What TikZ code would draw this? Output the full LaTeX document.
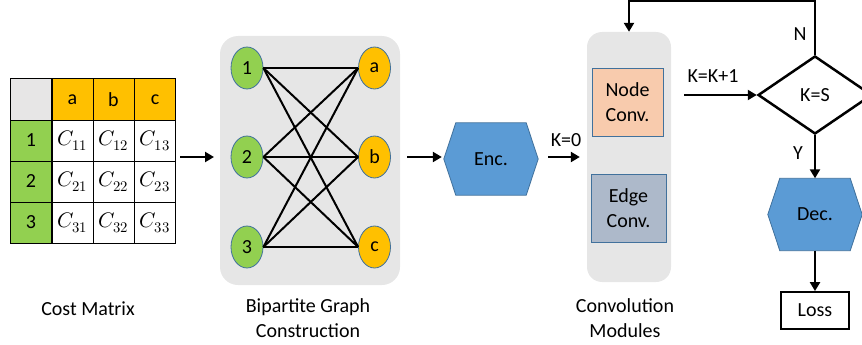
\documentclass[tikz,border=0pt]{standalone}
\usepackage{fontspec}
\usepackage{unicode-math}
\setmainfont{Carlito}
\setmathfont{Latin Modern Math}
\usetikzlibrary{arrows.meta,calc,shapes.geometric}
\pgfdeclarelayer{bg}
\pgfsetlayers{bg,main}
\definecolor{cgreen}{HTML}{92D050}
\definecolor{corange}{HTML}{FFC000}
\definecolor{cgray}{HTML}{E6E6E6}
\definecolor{chead}{HTML}{E7E6E6}
\definecolor{cblue}{HTML}{5B9BD5}
\definecolor{cblueb}{HTML}{41719C}
\definecolor{cpeach}{HTML}{F8CBAD}
\definecolor{cslate}{HTML}{ADB9CA}
\newcommand\hexbg[1]{\begin{pgfonlayer}{bg}\draw[hexfill] (#1.west) -- ([xshift=12pt]#1.north west) -- ([xshift=-12pt]#1.north east) -- (#1.east) -- ([xshift=-12pt]#1.south east) -- ([xshift=12pt]#1.south west) -- cycle;\end{pgfonlayer}}
\tikzset{
  every node/.style={font=\fontsize{20}{25}\selectfont, inner sep=0pt},
  cell/.style={draw=black, line width=1pt, minimum width=41pt, minimum height=41pt},
  mcell/.style={cell, font=\fontsize{21}{25}\selectfont},
  vert/.style={ellipse, draw=cblueb, line width=0.8pt, minimum width=32pt, minimum height=42pt},
  edge/.style={line width=2pt},
  arr/.style={-{Triangle[length=9pt,width=10pt]}, line width=2.8pt},
  hexfill/.style={fill=cblue, draw=cblueb, line width=0.8pt},
  hexbox/.style={minimum width=94pt, minimum height=72pt},
  graybox/.style={fill=cgray, rounded corners=18pt},
  lbl/.style={align=center},
}
\begin{document}
\begin{tikzpicture}[x=1pt,y=-1pt]
\useasboundingbox (0,0) rectangle (862,345);
% cost matrix
\node[cell, fill=chead] (h0) at (31,99.5) {};
\node[cell, fill=corange] (ha) at (72.5,99.5) {a};
\node[cell, fill=corange] (hb) at (113.5,99.5) {b};
\node[cell, fill=corange] (hc) at (155,99.5) {c};
\node[cell, fill=cgreen] (r1) at (31,140.5) {1};
\node[cell, fill=cgreen] (r2) at (31,181.5) {2};
\node[cell, fill=cgreen] (r3) at (31,222.5) {3};
\node[mcell] (c11) at (72.5,140.5) {$C_{11}$};
\node[mcell] (c12) at (113.5,140.5) {$C_{12}$};
\node[mcell] (c13) at (155,140.5) {$C_{13}$};
\node[mcell] (c21) at (72.5,181.5) {$C_{21}$};
\node[mcell] (c22) at (113.5,181.5) {$C_{22}$};
\node[mcell] (c23) at (155,181.5) {$C_{23}$};
\node[mcell] (c31) at (72.5,222.5) {$C_{31}$};
\node[mcell] (c32) at (113.5,222.5) {$C_{32}$};
\node[mcell] (c33) at (155,222.5) {$C_{33}$};
\node[lbl] (costlbl) at (88,309) {Cost Matrix};
% bipartite graph
\node[graybox, minimum width=180pt, minimum height=249pt] (bip) at (310,160.5) {};
\node[vert, fill=cgreen] (l1) at (247,68) {1};
\node[vert, fill=cgreen] (l2) at (247,157) {2};
\node[vert, fill=cgreen] (l3) at (247,247) {3};
\node[vert, fill=corange] (ra) at (374.5,68) {a};
\node[vert, fill=corange] (rb) at (374.5,157) {b};
\node[vert, fill=corange] (rc) at (374.5,247) {c};
\foreach \l in {l1,l2,l3}{\foreach \r in {ra,rb,rc}{\draw[edge] (\l.east) -- (\r.west);}}
\node[lbl] (biplbl) at (308,318) {Bipartite Graph\\Construction};
% encoder
\node[hexbox] (enc) at (491,159) {Enc.};
\hexbg{enc}
% convolution modules
\node[graybox, rounded corners=15pt, minimum width=84pt, minimum height=250pt] (conv) at (629,157) {};
\node[fill=cpeach, draw=cblueb, line width=0.8pt, minimum width=71pt, minimum height=68pt, align=center] (nconv) at (627.5,102) {Node\\Conv.};
\node[fill=cslate, draw=cblueb, line width=0.8pt, minimum width=75pt, minimum height=68pt, align=center] (econv) at (628.5,208) {Edge\\Conv.};
\node[lbl] (convlbl) at (625,318) {Convolution\\Modules};
% decision
\node[diamond, draw=black, line width=2.5pt, minimum width=114pt, minimum height=78pt] (dia) at (815,95) {K=S};
\node[hexbox] (dec) at (815,214.5) {Dec.};
\hexbg{dec}
\node[draw=black, line width=1.8pt, minimum width=68pt, minimum height=37pt] (loss) at (815,310.5) {Loss};
% arrows
\coordinate (tabout) at (180,157);
\coordinate (bipin) at (214,157);
\draw[arr] (tabout) -- (bipin);
\draw[arr] ([xshift=7pt]bip.east |- l2) -- ([xshift=-2pt]enc.west |- l2);
\draw[arr] ([xshift=10pt]enc.east |- conv) -- ([xshift=-7pt]conv.west);
\node (k0) at (566,140) {K=0};
\draw[arr] ([xshift=13pt]conv.east |- dia) -- (dia.west);
\node (kk) at (713,76) {K=K+1};
\draw[arr] (dia.north) -- ++(0,-54) -| (conv.north);
\node (nlbl) at (800,34) {N};
\draw[arr] (dia.south) -- (dec.north);
\node (ylbl) at (798,153) {Y};
\draw[arr] (dec.south) -- (loss.north);
\end{tikzpicture}
\end{document}
